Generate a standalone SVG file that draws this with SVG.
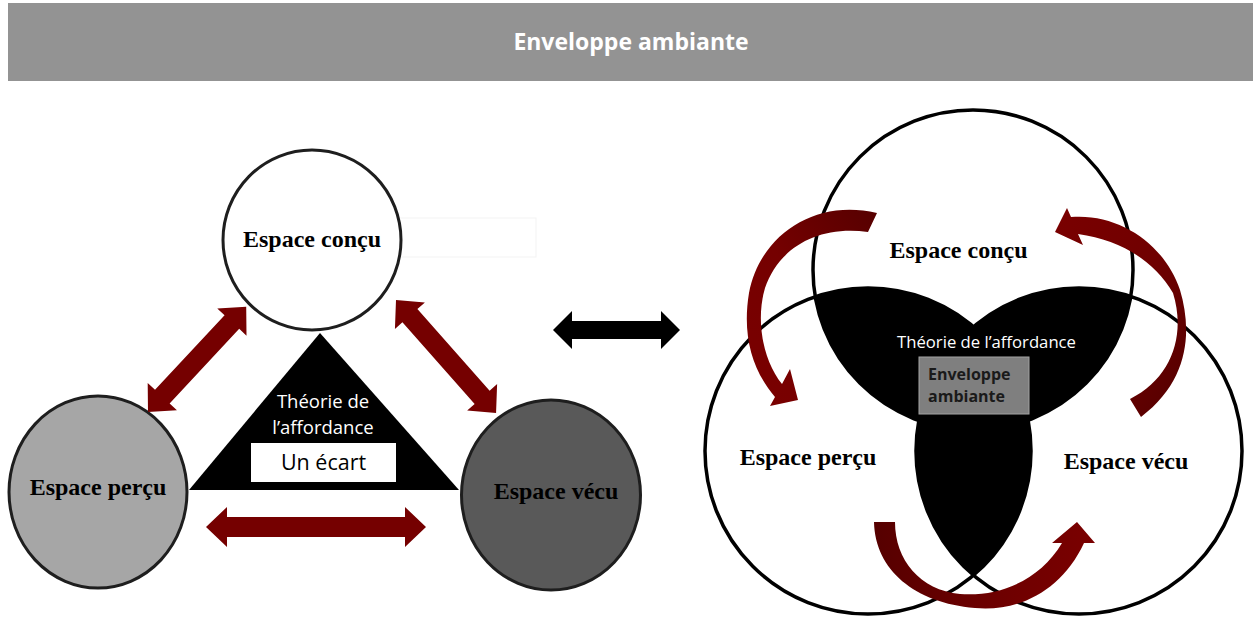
<svg xmlns="http://www.w3.org/2000/svg" width="1258" height="617" viewBox="0 0 1258 617">
<defs>
<style>
.lbl{font-family:"Liberation Serif","Times New Roman",serif;font-weight:bold;font-size:24px;fill:#000;text-anchor:middle}
.sans{font-family:"Open Sans","Noto Sans",sans-serif}
.node{stroke:#1e1e1e;stroke-width:3}
.venn{fill:none;stroke:#000;stroke-width:3.5}
.red{fill:#750000}
.blk{fill:#000}
</style>
<clipPath id="cT"><circle cx="973" cy="270" r="160"/></clipPath>
<clipPath id="cL"><circle cx="868" cy="451" r="163"/></clipPath>
<linearGradient id="g1" x1="1" y1="0" x2="0" y2="1"><stop offset="0" stop-color="#560000"/><stop offset="0.5" stop-color="#750000"/><stop offset="1" stop-color="#7a0000"/></linearGradient>
<linearGradient id="g2" x1="1" y1="1" x2="0" y2="0"><stop offset="0" stop-color="#520000"/><stop offset="0.5" stop-color="#700000"/><stop offset="1" stop-color="#7a0000"/></linearGradient>
<linearGradient id="g3" x1="0" y1="0" x2="1" y2="0"><stop offset="0" stop-color="#560000"/><stop offset="0.5" stop-color="#6c0000"/><stop offset="1" stop-color="#7a0000"/></linearGradient>
</defs>
<rect width="1258" height="617" fill="#fff"/>

<g id="banner">
<rect x="8" y="3" width="1245" height="78" fill="#939393"/>
<text x="631" y="50" class="sans" font-size="23" font-weight="bold" fill="#fff" text-anchor="middle">Enveloppe ambiante</text>
</g>

<!-- Left diagram -->
<g id="left-concu">
<rect x="230" y="218" width="306" height="39" fill="none" stroke="#f3f3f3" stroke-width="1"/>
<ellipse cx="312" cy="240" rx="89" ry="90" fill="#fff" class="node"/>
<text x="312" y="247" class="lbl">Espace conçu</text>
</g>
<g id="left-percu">
<ellipse cx="98" cy="492" rx="89" ry="96" fill="#a6a6a6" class="node"/>
<text x="98" y="495" class="lbl">Espace perçu</text>
</g>
<g id="left-vecu">
<ellipse cx="551" cy="495" rx="89.5" ry="95" fill="#595959" class="node"/>
<text x="556" y="499" class="lbl" fill="#111">Espace vécu</text>
</g>
<g id="left-affordance">
<polygon points="320,333 189,490 459,490" class="blk"/>
<text x="323" y="408" class="sans" font-size="18.5" fill="#fff" text-anchor="middle">Théorie de</text>
<text x="323" y="434" class="sans" font-size="18.5" fill="#fff" text-anchor="middle">l’affordance</text>
<rect x="251" y="443" width="145" height="39" fill="#fff"/>
<text x="323.5" y="470" class="sans" font-size="21.5" fill="#000" text-anchor="middle">Un écart</text>
</g>

<!-- Venn diagram -->
<g id="venn-intersections">
<circle cx="868" cy="451" r="163" clip-path="url(#cT)" class="blk"/>
<circle cx="1079" cy="451" r="163" clip-path="url(#cT)" class="blk"/>
<circle cx="1079" cy="451" r="163" clip-path="url(#cL)" class="blk"/>
</g>
<g id="venn-concu">
<circle cx="973" cy="270" r="160" class="venn"/>
<text x="958.5" y="258" class="lbl">Espace conçu</text>
</g>
<g id="venn-percu">
<circle cx="868" cy="451" r="163" class="venn"/>
<text x="808" y="465" class="lbl">Espace perçu</text>
</g>
<g id="venn-vecu">
<circle cx="1079" cy="451" r="163" class="venn"/>
<text x="1126" y="469" class="lbl">Espace vécu</text>
</g>
<g id="venn-center">
<text x="986.5" y="348" class="sans" font-size="16.7" fill="#fff" text-anchor="middle">Théorie de l’affordance</text>
<rect x="919" y="357" width="110" height="57" fill="#7f7f7f" stroke="#a3a3a3" stroke-width="1"/>
<text x="928" y="380" class="sans" font-size="16" font-weight="bold" fill="#1a1a1a">Enveloppe</text>
<text x="928" y="402" class="sans" font-size="16" font-weight="bold" fill="#1a1a1a">ambiante</text>
</g>

<g id="connectors">
<path class="red" d="M206,527 L227,507 L227,517 L405,517 L405,507 L426,527 L405,547 L405,537 L227,537 L227,547 Z"/>
<path class="red" transform="translate(148,412) rotate(-47)" d="M0,0 L21,-20 L21,-10 L123,-10 L123,-20 L144,0 L123,20 L123,10 L21,10 L21,20 Z"/>
<path class="red" transform="translate(396,300) rotate(48.5)" d="M0,0 L21,-20 L21,-10 L130,-10 L130,-20 L151,0 L130,20 L130,10 L21,10 L21,20 Z"/>
<path fill="#000" d="M553,330 L572,311 L572,321 L661,321 L661,311 L680,330 L661,349 L661,339 L572,339 L572,349 Z"/>
<path fill="url(#g1)" d="M877,213 C815,198 760,235 749,293 C742,335 752,370 775,397 L770,406 L798,400 L790,369 L782,384 C764,362 755,322 765,288 C778,250 815,225 868,232 Z"/>
<path fill="url(#g2)" d="M1055,232 L1067,208 L1071,217 C1120,213 1165,245 1180,290 C1192,330 1190,380 1141,417 L1130,399 C1172,378 1186,335 1173,293 C1155,262 1122,240 1078,234 L1083,245 Z"/>
<path fill="url(#g3)" d="M874,522 L895,522 C895,560 920,590 960,594 C1000,597 1040,580 1062,543 L1052,543 L1077,522 L1095,543 L1084,543 C1062,590 1020,612 975,608 C915,603 875,570 874,522 Z"/>
</g>
</svg>
